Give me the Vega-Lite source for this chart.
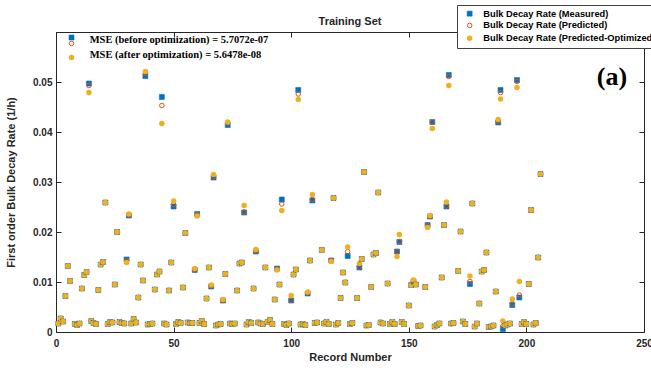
{
  "$schema": "https://vega.github.io/schema/vega-lite/v6.json",
  "width": 588,
  "height": 300,
  "autosize": {"type": "none"},
  "padding": {"left": 56, "top": 32, "right": 7, "bottom": 36},
  "background": "white",
  "config": {
    "view": {"stroke": "#262626", "strokeWidth": 1},
    "axis": {"grid": false, "domainColor": "#262626", "tickColor": "#262626", "labelColor": "#262626", "titleColor": "#262626", "labelFont": "Liberation Sans", "titleFont": "Liberation Sans", "labelFontWeight": "bold", "titleFontWeight": "bold", "labelFontSize": 10, "titleFontSize": 11, "tickSize": -5},
    "legend": {"labelFont": "Liberation Sans", "labelFontWeight": "bold", "labelFontSize": 9.3, "labelColor": "#000000", "strokeColor": "#404040", "fillColor": "white", "padding": 4, "rowPadding": 1.8, "symbolOffset": 4, "labelOffset": 9, "cornerRadius": 0, "labelLimit": 400}
  },
  "datasets": {
    "d": [
      {"x":1,"m":0.0017,"p":0.0017,"o":0.0017},
      {"x":2,"m":0.0027,"p":0.0027,"o":0.0027},
      {"x":3,"m":0.0021,"p":0.0021,"o":0.0021},
      {"x":4,"m":0.0072,"p":0.0072,"o":0.0072},
      {"x":5,"m":0.0132,"p":0.0132,"o":0.0132},
      {"x":6,"m":0.0102,"p":0.0102,"o":0.0102},
      {"x":8,"m":0.0016,"p":0.0016,"o":0.0016},
      {"x":9,"m":0.0014,"p":0.0014,"o":0.0014},
      {"x":10,"m":0.0017,"p":0.0017,"o":0.0017},
      {"x":11,"m":0.0087,"p":0.0087,"o":0.0087},
      {"x":12,"m":0.0114,"p":0.0114,"o":0.0114},
      {"x":13,"m":0.0120,"p":0.0120,"o":0.0120},
      {"x":14,"m":0.0497,"p":0.0493,"o":0.0479},
      {"x":15,"m":0.0022,"p":0.0022,"o":0.0022},
      {"x":16,"m":0.0018,"p":0.0018,"o":0.0018},
      {"x":17,"m":0.0016,"p":0.0016,"o":0.0016},
      {"x":18,"m":0.0084,"p":0.0084,"o":0.0084},
      {"x":19,"m":0.0135,"p":0.0135,"o":0.0135},
      {"x":20,"m":0.0140,"p":0.0140,"o":0.0140},
      {"x":21,"m":0.0259,"p":0.0259,"o":0.0259},
      {"x":22,"m":0.0016,"p":0.0016,"o":0.0016},
      {"x":23,"m":0.0020,"p":0.0020,"o":0.0020},
      {"x":24,"m":0.0019,"p":0.0019,"o":0.0019},
      {"x":25,"m":0.0095,"p":0.0095,"o":0.0095},
      {"x":26,"m":0.0200,"p":0.0200,"o":0.0200},
      {"x":27,"m":0.0020,"p":0.0020,"o":0.0020},
      {"x":28,"m":0.0018,"p":0.0018,"o":0.0018},
      {"x":29,"m":0.0017,"p":0.0017,"o":0.0017},
      {"x":30,"m":0.0145,"p":0.0143,"o":0.0139},
      {"x":31,"m":0.0233,"p":0.0234,"o":0.0236},
      {"x":32,"m":0.0017,"p":0.0017,"o":0.0017},
      {"x":33,"m":0.0026,"p":0.0026,"o":0.0026},
      {"x":34,"m":0.0019,"p":0.0019,"o":0.0019},
      {"x":35,"m":0.0069,"p":0.0069,"o":0.0069},
      {"x":36,"m":0.0135,"p":0.0135,"o":0.0135},
      {"x":37,"m":0.0103,"p":0.0103,"o":0.0103},
      {"x":38,"m":0.0512,"p":0.0517,"o":0.0521},
      {"x":39,"m":0.0015,"p":0.0015,"o":0.0015},
      {"x":40,"m":0.0016,"p":0.0016,"o":0.0016},
      {"x":41,"m":0.0017,"p":0.0017,"o":0.0017},
      {"x":42,"m":0.0085,"p":0.0085,"o":0.0085},
      {"x":43,"m":0.0115,"p":0.0115,"o":0.0115},
      {"x":44,"m":0.0121,"p":0.0121,"o":0.0121},
      {"x":45,"m":0.0470,"p":0.0453,"o":0.0417},
      {"x":46,"m":0.0017,"p":0.0017,"o":0.0017},
      {"x":47,"m":0.0015,"p":0.0015,"o":0.0015},
      {"x":48,"m":0.0083,"p":0.0083,"o":0.0083},
      {"x":49,"m":0.0139,"p":0.0139,"o":0.0139},
      {"x":50,"m":0.0251,"p":0.0255,"o":0.0262},
      {"x":51,"m":0.0016,"p":0.0016,"o":0.0016},
      {"x":52,"m":0.0020,"p":0.0020,"o":0.0020},
      {"x":53,"m":0.0018,"p":0.0018,"o":0.0018},
      {"x":54,"m":0.0089,"p":0.0089,"o":0.0089},
      {"x":55,"m":0.0198,"p":0.0198,"o":0.0198},
      {"x":56,"m":0.0019,"p":0.0019,"o":0.0019},
      {"x":57,"m":0.0018,"p":0.0018,"o":0.0018},
      {"x":58,"m":0.0018,"p":0.0018,"o":0.0018},
      {"x":59,"m":0.0124,"p":0.0125,"o":0.0127},
      {"x":60,"m":0.0236,"p":0.0235,"o":0.0232},
      {"x":61,"m":0.0018,"p":0.0018,"o":0.0018},
      {"x":62,"m":0.0022,"p":0.0022,"o":0.0022},
      {"x":63,"m":0.0016,"p":0.0016,"o":0.0016},
      {"x":64,"m":0.0067,"p":0.0067,"o":0.0067},
      {"x":65,"m":0.0129,"p":0.0129,"o":0.0129},
      {"x":66,"m":0.0091,"p":0.0092,"o":0.0094},
      {"x":67,"m":0.0309,"p":0.0310,"o":0.0315},
      {"x":68,"m":0.0013,"p":0.0013,"o":0.0013},
      {"x":69,"m":0.0015,"p":0.0015,"o":0.0015},
      {"x":70,"m":0.0016,"p":0.0016,"o":0.0016},
      {"x":71,"m":0.0063,"p":0.0063,"o":0.0065},
      {"x":72,"m":0.0116,"p":0.0116,"o":0.0116},
      {"x":73,"m":0.0414,"p":0.0418,"o":0.0420},
      {"x":74,"m":0.0017,"p":0.0017,"o":0.0017},
      {"x":75,"m":0.0016,"p":0.0016,"o":0.0016},
      {"x":76,"m":0.0017,"p":0.0017,"o":0.0017},
      {"x":77,"m":0.0083,"p":0.0083,"o":0.0083},
      {"x":78,"m":0.0137,"p":0.0137,"o":0.0137},
      {"x":79,"m":0.0139,"p":0.0139,"o":0.0139},
      {"x":80,"m":0.0239,"p":0.0240,"o":0.0253},
      {"x":81,"m":0.0015,"p":0.0015,"o":0.0015},
      {"x":82,"m":0.0020,"p":0.0020,"o":0.0020},
      {"x":83,"m":0.0018,"p":0.0018,"o":0.0018},
      {"x":84,"m":0.0087,"p":0.0087,"o":0.0087},
      {"x":85,"m":0.0161,"p":0.0162,"o":0.0165},
      {"x":86,"m":0.0019,"p":0.0019,"o":0.0019},
      {"x":87,"m":0.0017,"p":0.0017,"o":0.0017},
      {"x":88,"m":0.0016,"p":0.0016,"o":0.0016},
      {"x":89,"m":0.0129,"p":0.0129,"o":0.0129},
      {"x":90,"m":0.0020,"p":0.0020,"o":0.0020},
      {"x":91,"m":0.0024,"p":0.0024,"o":0.0024},
      {"x":92,"m":0.0016,"p":0.0016,"o":0.0016},
      {"x":93,"m":0.0065,"p":0.0065,"o":0.0065},
      {"x":94,"m":0.0127,"p":0.0126,"o":0.0124},
      {"x":95,"m":0.0095,"p":0.0095,"o":0.0095},
      {"x":96,"m":0.0265,"p":0.0256,"o":0.0243},
      {"x":97,"m":0.0016,"p":0.0016,"o":0.0016},
      {"x":98,"m":0.0014,"p":0.0014,"o":0.0014},
      {"x":99,"m":0.0017,"p":0.0017,"o":0.0017},
      {"x":100,"m":0.0063,"p":0.0063,"o":0.0073},
      {"x":101,"m":0.0115,"p":0.0115,"o":0.0115},
      {"x":102,"m":0.0125,"p":0.0125,"o":0.0125},
      {"x":103,"m":0.0484,"p":0.0476,"o":0.0465},
      {"x":104,"m":0.0015,"p":0.0015,"o":0.0015},
      {"x":105,"m":0.0016,"p":0.0016,"o":0.0016},
      {"x":106,"m":0.0014,"p":0.0014,"o":0.0014},
      {"x":107,"m":0.0077,"p":0.0078,"o":0.0080},
      {"x":108,"m":0.0143,"p":0.0143,"o":0.0143},
      {"x":109,"m":0.0263,"p":0.0265,"o":0.0275},
      {"x":110,"m":0.0018,"p":0.0018,"o":0.0018},
      {"x":111,"m":0.0019,"p":0.0019,"o":0.0019},
      {"x":113,"m":0.0164,"p":0.0164,"o":0.0164},
      {"x":114,"m":0.0017,"p":0.0017,"o":0.0017},
      {"x":115,"m":0.0020,"p":0.0020,"o":0.0020},
      {"x":116,"m":0.0016,"p":0.0016,"o":0.0016},
      {"x":117,"m":0.0143,"p":0.0143,"o":0.0141},
      {"x":118,"m":0.0268,"p":0.0268,"o":0.0268},
      {"x":119,"m":0.0015,"p":0.0015,"o":0.0015},
      {"x":120,"m":0.0018,"p":0.0018,"o":0.0018},
      {"x":121,"m":0.0068,"p":0.0068,"o":0.0068},
      {"x":122,"m":0.0119,"p":0.0119,"o":0.0119},
      {"x":123,"m":0.0099,"p":0.0099,"o":0.0099},
      {"x":124,"m":0.0152,"p":0.0161,"o":0.0170},
      {"x":125,"m":0.0016,"p":0.0016,"o":0.0016},
      {"x":126,"m":0.0018,"p":0.0018,"o":0.0018},
      {"x":128,"m":0.0068,"p":0.0068,"o":0.0068},
      {"x":129,"m":0.0129,"p":0.0130,"o":0.0137},
      {"x":130,"m":0.0146,"p":0.0146,"o":0.0146},
      {"x":131,"m":0.0320,"p":0.0320,"o":0.0320},
      {"x":132,"m":0.0013,"p":0.0013,"o":0.0013},
      {"x":133,"m":0.0014,"p":0.0014,"o":0.0014},
      {"x":134,"m":0.0090,"p":0.0090,"o":0.0090},
      {"x":135,"m":0.0155,"p":0.0155,"o":0.0155},
      {"x":136,"m":0.0158,"p":0.0158,"o":0.0158},
      {"x":137,"m":0.0279,"p":0.0279,"o":0.0279},
      {"x":138,"m":0.0019,"p":0.0019,"o":0.0019},
      {"x":139,"m":0.0017,"p":0.0017,"o":0.0017},
      {"x":141,"m":0.0097,"p":0.0097,"o":0.0097},
      {"x":142,"m":0.0016,"p":0.0016,"o":0.0016},
      {"x":143,"m":0.0020,"p":0.0020,"o":0.0020},
      {"x":144,"m":0.0016,"p":0.0016,"o":0.0016},
      {"x":145,"m":0.0161,"p":0.0161,"o":0.0151},
      {"x":146,"m":0.0180,"p":0.0181,"o":0.0195},
      {"x":147,"m":0.0020,"p":0.0020,"o":0.0020},
      {"x":148,"m":0.0016,"p":0.0016,"o":0.0016},
      {"x":150,"m":0.0053,"p":0.0053,"o":0.0053},
      {"x":151,"m":0.0094,"p":0.0094,"o":0.0094},
      {"x":152,"m":0.0101,"p":0.0101,"o":0.0104},
      {"x":153,"m":0.0095,"p":0.0095,"o":0.0095},
      {"x":154,"m":0.0012,"p":0.0012,"o":0.0012},
      {"x":155,"m":0.0013,"p":0.0013,"o":0.0013},
      {"x":157,"m":0.0090,"p":0.0090,"o":0.0090},
      {"x":158,"m":0.0214,"p":0.0213,"o":0.0209},
      {"x":159,"m":0.0231,"p":0.0231,"o":0.0233},
      {"x":160,"m":0.0420,"p":0.0420,"o":0.0407},
      {"x":161,"m":0.0011,"p":0.0011,"o":0.0011},
      {"x":162,"m":0.0014,"p":0.0014,"o":0.0014},
      {"x":163,"m":0.0017,"p":0.0017,"o":0.0017},
      {"x":164,"m":0.0109,"p":0.0109,"o":0.0109},
      {"x":165,"m":0.0214,"p":0.0214,"o":0.0214},
      {"x":166,"m":0.0251,"p":0.0252,"o":0.0260},
      {"x":167,"m":0.0514,"p":0.0511,"o":0.0493},
      {"x":168,"m":0.0017,"p":0.0017,"o":0.0017},
      {"x":169,"m":0.0018,"p":0.0018,"o":0.0018},
      {"x":171,"m":0.0122,"p":0.0122,"o":0.0122},
      {"x":172,"m":0.0201,"p":0.0201,"o":0.0201},
      {"x":173,"m":0.0021,"p":0.0021,"o":0.0021},
      {"x":174,"m":0.0016,"p":0.0016,"o":0.0016},
      {"x":176,"m":0.0096,"p":0.0101,"o":0.0112},
      {"x":177,"m":0.0257,"p":0.0257,"o":0.0257},
      {"x":178,"m":0.0011,"p":0.0011,"o":0.0011},
      {"x":179,"m":0.0017,"p":0.0017,"o":0.0017},
      {"x":180,"m":0.0057,"p":0.0057,"o":0.0057},
      {"x":181,"m":0.0121,"p":0.0121,"o":0.0121},
      {"x":182,"m":0.0124,"p":0.0124,"o":0.0124},
      {"x":183,"m":0.0159,"p":0.0159,"o":0.0159},
      {"x":184,"m":0.0010,"p":0.0010,"o":0.0010},
      {"x":185,"m":0.0011,"p":0.0011,"o":0.0011},
      {"x":186,"m":0.0013,"p":0.0013,"o":0.0013},
      {"x":187,"m":0.0081,"p":0.0081,"o":0.0081},
      {"x":188,"m":0.0419,"p":0.0421,"o":0.0425},
      {"x":189,"m":0.0484,"p":0.0479,"o":0.0466},
      {"x":190,"m":0.0006,"p":0.0012,"o":0.0022},
      {"x":191,"m":0.0013,"p":0.0013,"o":0.0013},
      {"x":192,"m":0.0015,"p":0.0015,"o":0.0015},
      {"x":193,"m":0.0017,"p":0.0017,"o":0.0017},
      {"x":194,"m":0.0054,"p":0.0057,"o":0.0066},
      {"x":196,"m":0.0504,"p":0.0501,"o":0.0489},
      {"x":197,"m":0.0069,"p":0.0074,"o":0.0101},
      {"x":198,"m":0.0016,"p":0.0016,"o":0.0016},
      {"x":199,"m":0.0020,"p":0.0020,"o":0.0020},
      {"x":200,"m":0.0016,"p":0.0016,"o":0.0016},
      {"x":201,"m":0.0096,"p":0.0096,"o":0.0096},
      {"x":202,"m":0.0244,"p":0.0244,"o":0.0244},
      {"x":203,"m":0.0015,"p":0.0015,"o":0.0015},
      {"x":204,"m":0.0018,"p":0.0018,"o":0.0018},
      {"x":205,"m":0.0149,"p":0.0149,"o":0.0149},
      {"x":206,"m":0.0316,"p":0.0316,"o":0.0316}
    ]
  },
  "resolve": {"axis": {"x": "independent", "y": "independent"}},
  "layer": [
    {
      "data": {"name": "d"},
      "transform": [{"fold": ["m", "p", "o"], "as": ["series", "v"]}],
      "mark": {"type": "point", "opacity": 1, "filled": false},
      "encoding": {
        "x": {"field": "x", "type": "quantitative", "scale": {"domain": [0, 250], "nice": false, "zero": false}, "axis": {"title": "Record Number", "values": [0, 50, 100, 150, 200, 250], "format": "d", "labelPadding": 11, "titlePadding": 3, "labelFlush": false}},
        "y": {"field": "v", "type": "quantitative", "scale": {"domain": [0, 0.06], "nice": false}, "axis": {"title": "First order Bulk Decay Rate (1/h)", "values": [0, 0.01, 0.02, 0.03, 0.04, 0.05], "format": "~g", "labelPadding": 9, "titlePadding": 16}},
        "shape": {"field": "series", "type": "nominal", "scale": {"domain": ["m", "p", "o"], "range": ["square", "circle", "circle"]}, "legend": {"title": null, "orient": "none", "legendX": 401, "legendY": -27, "labelExpr": "datum.label == 'm' ? 'Bulk Decay Rate (Measured)' : datum.label == 'p' ? 'Bulk Decay Rate (Predicted)' : 'Bulk Decay Rate (Predicted-Optimized)'"}},
        "stroke": {"field": "series", "type": "nominal", "scale": {"domain": ["m", "p", "o"], "range": ["#0072BD", "#D95319", "#EDB120"]}, "legend": {"title": null, "orient": "none", "legendX": 401, "legendY": -27, "labelExpr": "datum.label == 'm' ? 'Bulk Decay Rate (Measured)' : datum.label == 'p' ? 'Bulk Decay Rate (Predicted)' : 'Bulk Decay Rate (Predicted-Optimized)'"}},
        "fill": {"field": "series", "type": "nominal", "scale": {"domain": ["m", "p", "o"], "range": ["#0072BD", "transparent", "#EDB120"]}, "legend": {"title": null, "orient": "none", "legendX": 401, "legendY": -27, "labelExpr": "datum.label == 'm' ? 'Bulk Decay Rate (Measured)' : datum.label == 'p' ? 'Bulk Decay Rate (Predicted)' : 'Bulk Decay Rate (Predicted-Optimized)'"}},
        "size": {"field": "series", "type": "ordinal", "scale": {"domain": ["m", "p", "o"], "range": [25, 17, 16]}, "legend": {"title": null, "orient": "none", "legendX": 401, "legendY": -27, "labelExpr": "datum.label == 'm' ? 'Bulk Decay Rate (Measured)' : datum.label == 'p' ? 'Bulk Decay Rate (Predicted)' : 'Bulk Decay Rate (Predicted-Optimized)'"}},
        "strokeWidth": {"field": "series", "type": "ordinal", "scale": {"domain": ["m", "p", "o"], "range": [0.6, 1.4, 0.4]}, "legend": {"title": null, "orient": "none", "legendX": 401, "legendY": -27, "labelExpr": "datum.label == 'm' ? 'Bulk Decay Rate (Measured)' : datum.label == 'p' ? 'Bulk Decay Rate (Predicted)' : 'Bulk Decay Rate (Predicted-Optimized)'"}}
      }
    },
    {
      "data": {"name": "d"},
      "mark": {"type": "point", "opacity": 0},
      "encoding": {
        "x": {"field": "x", "type": "quantitative", "scale": {"domain": [0, 250], "nice": false, "zero": false}, "axis": {"orient": "top", "labels": false, "title": null, "domain": false, "values": [0, 50, 100, 150, 200, 250]}},
        "y": {"field": "m", "type": "quantitative", "scale": {"domain": [0, 0.06], "nice": false}, "axis": {"orient": "right", "labels": false, "title": null, "domain": false, "values": [0, 0.01, 0.02, 0.03, 0.04, 0.05]}}
      }
    },
    {
      "data": {"values": [
        {"sx": 6.6, "sy": 0.0589, "series": "m"},
        {"sx": 6.6, "sy": 0.0577, "series": "p"},
        {"sx": 6.6, "sy": 0.0549, "series": "o"}
      ]},
      "mark": {"type": "point", "opacity": 1, "filled": false},
      "encoding": {
        "x": {"field": "sx", "type": "quantitative", "scale": {"domain": [0, 250], "nice": false, "zero": false}, "axis": null},
        "y": {"field": "sy", "type": "quantitative", "scale": {"domain": [0, 0.06], "nice": false}, "axis": null},
        "shape": {"field": "series", "type": "nominal", "scale": {"domain": ["m", "p", "o"], "range": ["square", "circle", "circle"]}, "legend": {"title": null, "orient": "none", "legendX": 401, "legendY": -27, "labelExpr": "datum.label == 'm' ? 'Bulk Decay Rate (Measured)' : datum.label == 'p' ? 'Bulk Decay Rate (Predicted)' : 'Bulk Decay Rate (Predicted-Optimized)'"}},
        "stroke": {"field": "series", "type": "nominal", "scale": {"domain": ["m", "p", "o"], "range": ["#0072BD", "#D95319", "#EDB120"]}, "legend": {"title": null, "orient": "none", "legendX": 401, "legendY": -27, "labelExpr": "datum.label == 'm' ? 'Bulk Decay Rate (Measured)' : datum.label == 'p' ? 'Bulk Decay Rate (Predicted)' : 'Bulk Decay Rate (Predicted-Optimized)'"}},
        "fill": {"field": "series", "type": "nominal", "scale": {"domain": ["m", "p", "o"], "range": ["#0072BD", "transparent", "#EDB120"]}, "legend": {"title": null, "orient": "none", "legendX": 401, "legendY": -27, "labelExpr": "datum.label == 'm' ? 'Bulk Decay Rate (Measured)' : datum.label == 'p' ? 'Bulk Decay Rate (Predicted)' : 'Bulk Decay Rate (Predicted-Optimized)'"}},
        "size": {"field": "series", "type": "ordinal", "scale": {"domain": ["m", "p", "o"], "range": [25, 17, 16]}, "legend": {"title": null, "orient": "none", "legendX": 401, "legendY": -27, "labelExpr": "datum.label == 'm' ? 'Bulk Decay Rate (Measured)' : datum.label == 'p' ? 'Bulk Decay Rate (Predicted)' : 'Bulk Decay Rate (Predicted-Optimized)'"}},
        "strokeWidth": {"field": "series", "type": "ordinal", "scale": {"domain": ["m", "p", "o"], "range": [0.6, 1.4, 0.4]}, "legend": {"title": null, "orient": "none", "legendX": 401, "legendY": -27, "labelExpr": "datum.label == 'm' ? 'Bulk Decay Rate (Measured)' : datum.label == 'p' ? 'Bulk Decay Rate (Predicted)' : 'Bulk Decay Rate (Predicted-Optimized)'"}}
      }
    },
    {
      "data": {"values": [
        {"tx": 14.3, "ty": 0.0584, "t": "MSE (before optimization) = 5.7072e-07"},
        {"tx": 14.3, "ty": 0.0555, "t": "MSE (after optimization) = 5.6478e-08"}
      ]},
      "mark": {"type": "text", "align": "left", "baseline": "middle", "font": "Liberation Serif", "fontWeight": "bold", "fontSize": 10.5, "color": "#000000"},
      "encoding": {
        "x": {"field": "tx", "type": "quantitative", "scale": {"domain": [0, 250], "nice": false, "zero": false}, "axis": null},
        "y": {"field": "ty", "type": "quantitative", "scale": {"domain": [0, 0.06], "nice": false}, "axis": null},
        "text": {"field": "t", "type": "nominal"}
      }
    },
    {
      "data": {"values": [{"tx": 236.4, "ty": 0.0510, "t": "(a)"}]},
      "mark": {"type": "text", "align": "center", "baseline": "middle", "font": "Liberation Serif", "fontWeight": "bold", "fontSize": 26, "color": "#000000"},
      "encoding": {
        "x": {"field": "tx", "type": "quantitative", "scale": {"domain": [0, 250], "nice": false, "zero": false}, "axis": null},
        "y": {"field": "ty", "type": "quantitative", "scale": {"domain": [0, 0.06], "nice": false}, "axis": null},
        "text": {"field": "t", "type": "nominal"}
      }
    },
    {
      "data": {"values": [{"tx": 125, "ty": 0.06, "t": "Training Set"}]},
      "mark": {"type": "text", "align": "center", "baseline": "bottom", "dy": -5, "font": "Liberation Sans", "fontWeight": "bold", "fontSize": 11, "color": "#262626"},
      "encoding": {
        "x": {"field": "tx", "type": "quantitative", "scale": {"domain": [0, 250], "nice": false, "zero": false}, "axis": null},
        "y": {"field": "ty", "type": "quantitative", "scale": {"domain": [0, 0.06], "nice": false}, "axis": null},
        "text": {"field": "t", "type": "nominal"}
      }
    }
  ]
}
